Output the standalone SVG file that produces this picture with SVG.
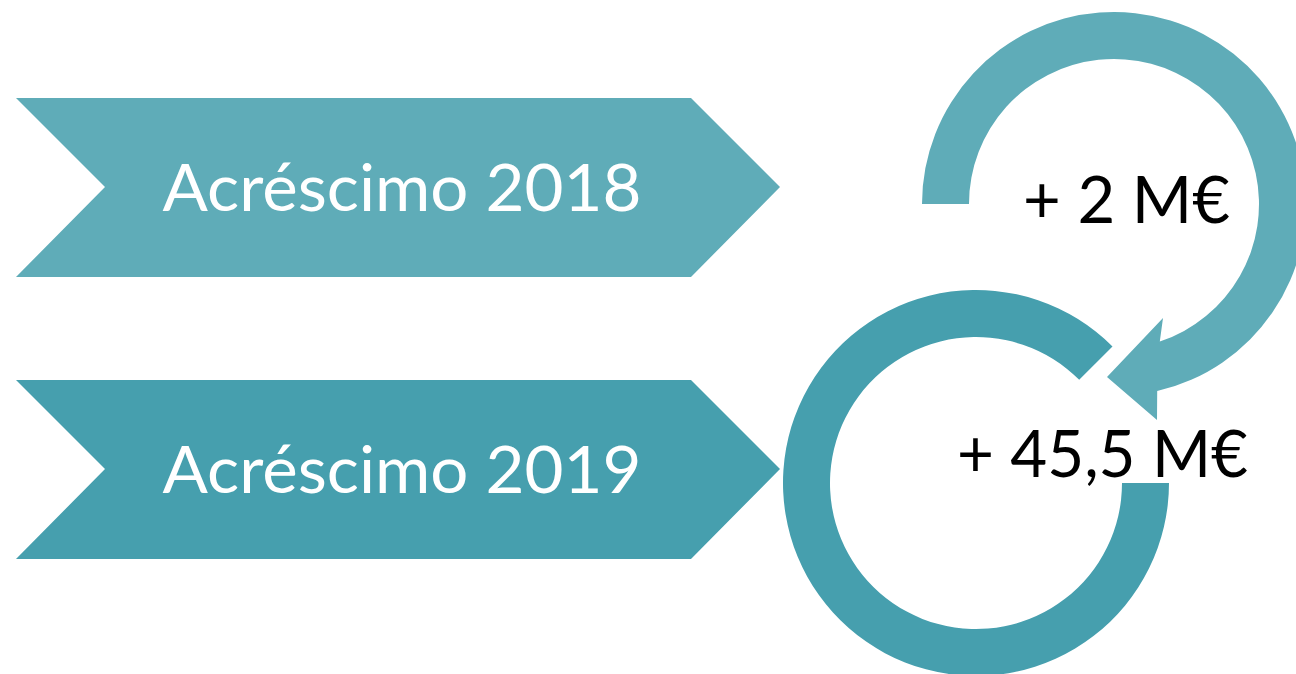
<svg xmlns="http://www.w3.org/2000/svg" width="1296" height="674" viewBox="0 0 1296 674">
<style>
.lbl{font-family:Lato,"Open Sans","Liberation Sans",sans-serif;font-size:66px;fill:#ffffff;text-anchor:middle}
.val{font-family:Lato,"Open Sans","Liberation Sans",sans-serif;font-size:66px;fill:#000000}
.c1{fill:#5FACB8}
.c2{fill:#469FAE}
</style>
<rect width="1296" height="674" fill="#ffffff"/>
<g id="chevron-2018">
<polygon class="c1" points="16,98 691,98 780,187 691,277 16,277 105,187"/>
<text class="lbl" x="402" y="211" textLength="479" lengthAdjust="spacingAndGlyphs">Acréscimo 2018</text>
</g>
<g id="chevron-2019">
<polygon class="c2" points="16,380 691,380 780,469 691,559 16,559 105,469"/>
<text class="lbl" x="402" y="493" textLength="479" lengthAdjust="spacingAndGlyphs">Acréscimo 2019</text>
</g>
<g id="connectors">
<path id="ring-2019" class="c2" d="M 1112.5 346.5 A 193 193 0 1 0 1169 483 L 1122 483 A 146 146 0 1 1 1079.2 379.8 Z"/>
<path id="arrow-2018" class="c1" d="M 922 204 A 192 192 0 1 1 1157.2 391.1 L 1157 420 L 1107 377 L 1163 318 L 1159.8 341.6 A 145 145 0 1 0 969 204 Z"/>
</g>
<g id="value-2018">
<text class="val" x="1023" y="223" textLength="207" lengthAdjust="spacingAndGlyphs">+ 2 M€</text>
</g>
<g id="value-2019">
<text class="val" x="957" y="477" textLength="291" lengthAdjust="spacingAndGlyphs">+ 45,5 M€</text>
</g>
</svg>
